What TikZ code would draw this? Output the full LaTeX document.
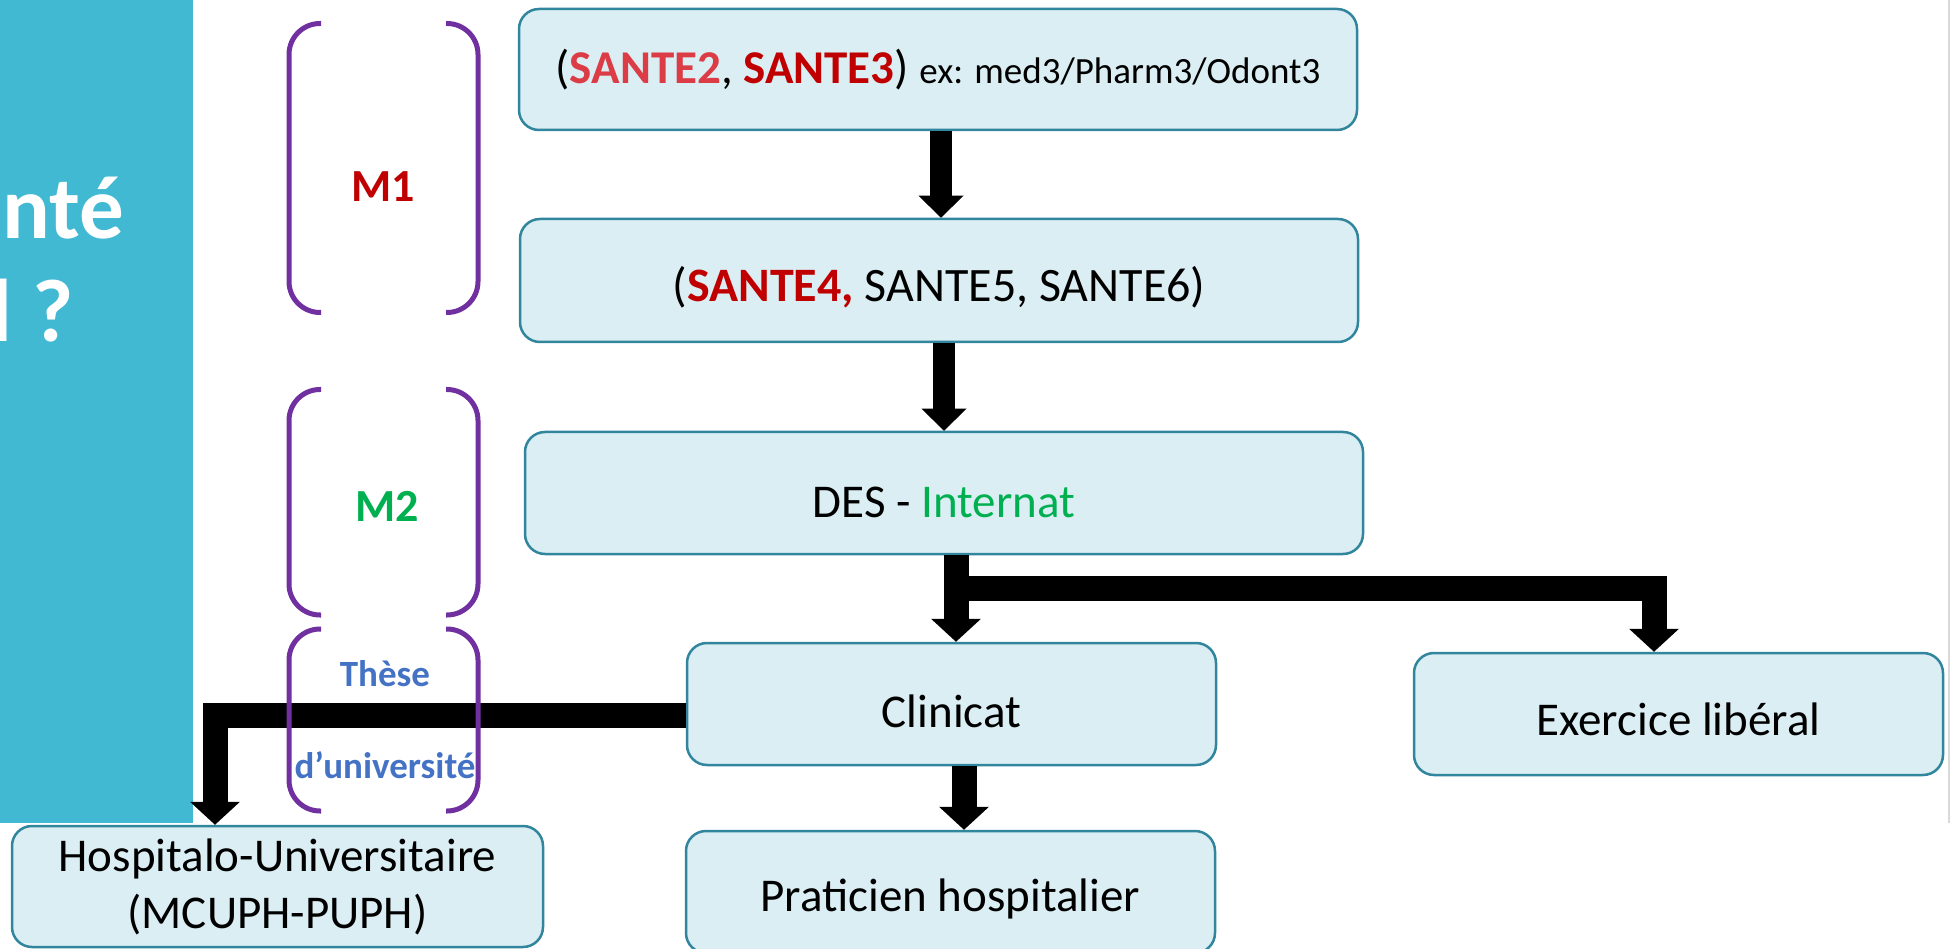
\documentclass[tikz,border=0pt]{standalone}
\usepackage{fontspec}
\setmainfont{Carlito}
\usetikzlibrary{arrows.meta}
\definecolor{panel}{HTML}{41B9D3}
\definecolor{boxfill}{HTML}{DAEEF3}
\definecolor{boxline}{HTML}{31859C}
\definecolor{brk}{HTML}{7030A0}
\definecolor{dred}{HTML}{C00000}
\definecolor{lred}{HTML}{DC3C45}
\definecolor{grn}{HTML}{00B050}
\definecolor{blu}{HTML}{4472C4}
\definecolor{edgegray}{HTML}{D9D9D9}
\tikzset{
  stagebase/.style={draw=boxline, fill=boxfill, line width=2.5pt, rounded corners=20pt,
    inner sep=0pt, align=center, font=\fontsize{47}{57}\selectfont},
  stagebox/.style={stagebase, text height=54pt, text depth=12pt},
  flow/.style={draw=black, line width=25pt, line join=miter,
    -{Triangle[width=50pt,length=23pt,line width=0pt]}},
  flowthin/.style={draw=black, line width=22pt, line join=miter,
    -{Triangle[width=45pt,length=22pt,line width=0pt]}},
  bracketline/.style={draw=brk, line width=5pt, rounded corners=31pt},
  yearlabel/.style={font=\fontsize{46}{55}\selectfont\bfseries, inner sep=0pt},
  theselabel/.style={font=\fontsize{37}{44}\selectfont\bfseries, text=blu, inner sep=0pt, anchor=base},
  paneltext/.style={font=\fontsize{89}{103}\selectfont\bfseries, text=white, inner sep=0pt, anchor=base east}
}
\newcommand\drawbrackets[2]{%
  \draw[bracketline] (321,#1) -- (289,#1) -- (289,#2) -- (321,#2);
  \draw[bracketline] (446,#1) -- (478,#1) -- (478,#2) -- (446,#2);}
\begin{document}
\begin{tikzpicture}[x=1pt,y=-1pt]
\useasboundingbox (0,0) rectangle (1952,949);
% left panel
\fill[panel] (0,0) rectangle (193,823);
\begin{scope}
  \clip (0,0) rectangle (193,823);
  \node[paneltext] (ptxt1) at (124,239) {nté};
  \node[paneltext] (ptxt2) at (74,342) {l ?};
\end{scope}
% right edge line
\draw[edgegray, line width=2pt] (1949,0) -- (1949,823);
% boxes
\node[stagebox, minimum width=838pt, minimum height=121pt, text height=41pt, text depth=12pt] (b1) at (938,69.5)
  {{\fontsize{47}{55}\selectfont(\textcolor{lred}{\bfseries SANTE2}, \textcolor{dred}{\bfseries SANTE3})} {\fontsize{37}{44}\selectfont ex: med3/Pharm3/Odont3}};
\node[stagebox, minimum width=838pt, minimum height=123pt, text height=55pt, font=\fontsize{48}{57}\selectfont] (b2) at (939,280.5)
  {(\textcolor{dred}{\bfseries SANTE4,} SANTE5, SANTE6)};
\node[stagebox, minimum width=838pt, minimum height=122pt, text height=60pt] (b3) at (944,493)
  {DES - \textcolor{grn}{Internat}};
\node[stagebox, minimum width=529pt, minimum height=122pt, text height=58pt] (clin) at (951.5,704) {Clinicat};
\node[stagebox, minimum width=529pt, minimum height=122pt] (exer) at (1678.5,714) {Exercice libéral};
\node[stagebase, minimum width=531pt, minimum height=121pt] (hosp) at (277.5,886.5)
  {Hospitalo-Universitaire\\(MCUPH-PUPH)};
\node[stagebox, minimum width=529pt, minimum height=122pt, text height=50pt] (prat) at (950.5,892) {Praticien hospitalier};
% connectors
\coordinate (a1) at ([xshift=3pt]b1.south);
\draw[flowthin] (a1) -- (a1 |- b2.north);
\coordinate (a2) at ([xshift=5pt]b2.south);
\draw[flowthin] (a2) -- (a2 |- b3.north);
\coordinate (a3) at ([xshift=12pt]b3.south);
\coordinate (fork) at (956,588);
\coordinate (exerin) at ([xshift=-24.5pt]exer.north);
\draw[flow] (a3) |- (fork -| exerin) -- (exerin);
\draw[flow] (a3) -- (a3 |- clin.north);
\coordinate (a4) at ([xshift=12.5pt]clin.south);
\draw[flow] (a4) -- (a4 |- prat.north);
\coordinate (clinout) at ([yshift=-11pt]clin.west);
\coordinate (hospin) at ([xshift=-62.5pt]hosp.north);
\draw[flow] (clinout) -| (hospin);
% brackets
\drawbrackets{23.5}{312.5}
\drawbrackets{389.5}{615}
\drawbrackets{629}{811}
% labels
\node[yearlabel, text=dred] (m1) at (383,187) {M1};
\node[yearlabel, text=grn] (m2) at (387,506) {M2};
\node[theselabel] (these) at (385,686) {Thèse};
\node[theselabel] (univ) at (385,778) {d’université};
\end{tikzpicture}
\end{document}
